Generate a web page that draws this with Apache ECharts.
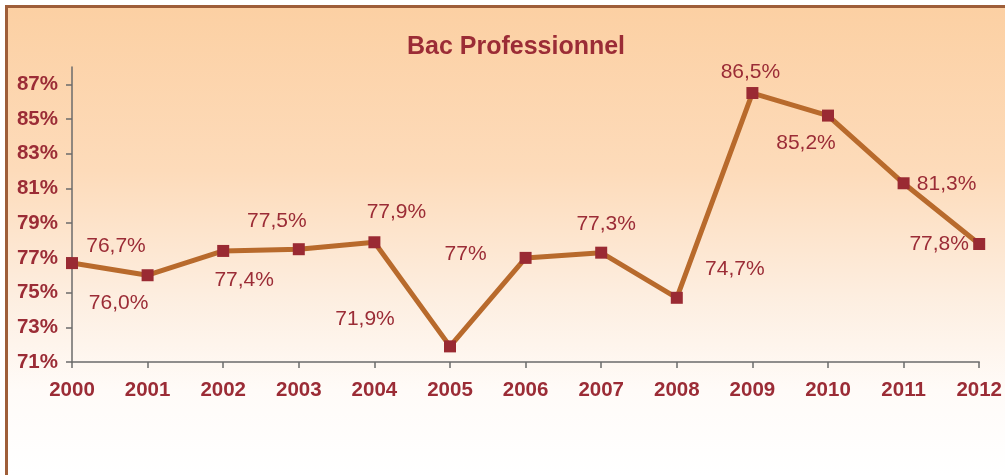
<!DOCTYPE html>
<html>
<head>
<meta charset="utf-8">
<script src="https://cdn.jsdelivr.net/npm/echarts@6/dist/echarts.min.js"></script>
<style>
html,body{margin:0;padding:0;background:#fff;}
#chart{width:1005px;height:475px;}
</style>
</head>
<body>
<div id="chart"></div>
<script>
const categories = ['2000','2001','2002','2003','2004','2005','2006','2007','2008','2009','2010','2011','2012'];
const values = [76.7, 76.0, 77.4, 77.5, 77.9, 71.9, 77.0, 77.3, 74.7, 86.5, 85.2, 81.3, 77.8];
const valueLabels = ['76,7%','76,0%','77,4%','77,5%','77,9%','71,9%','77%','77,3%','74,7%','86,5%','85,2%','81,3%','77,8%'];
const yTicks = [71, 73, 75, 77, 79, 81, 83, 85, 87];
const title = 'Bac Professionnel';

// label placement (presentation only)
const labelOffsets = [[44,-17],[-29,28],[21,29],[-22,-28],[22,-30],[-85,-27],[-60,-4],[5,-28],[58,-29],[-2,-21],[-22,28],[43,1],[-40,0]];

const textColor = '#9b2c36';
const font = '"Liberation Sans", Arial, Helvetica, sans-serif';

const chart = echarts.init(document.getElementById('chart'), null, {renderer:'canvas'});
chart.setOption({
  animation: false,
  graphic: [
    {type:'rect', z:-10, shape:{x:7,y:7,width:998,height:468},
     style:{fill:new echarts.graphic.LinearGradient(0,0,0,1,[
       {offset:0,color:'#fcd0a3'},
       {offset:0.35,color:'#fddbba'},
       {offset:0.62,color:'#fdeee0'},
       {offset:0.82,color:'#fffbf8'},
       {offset:1,color:'#ffffff'}])}},
    {type:'rect', z:-5, shape:{x:5,y:5,width:1000,height:3}, style:{fill:'#9e5e39'}},
    {type:'rect', z:-5, shape:{x:5,y:5,width:3,height:470}, style:{fill:'#9e5e39'}}
  ],
  title: {
    text: title, left: 511, top: 30, textAlign: 'center',
    textStyle: {color: textColor, fontFamily: font, fontWeight: 'bold', fontSize: 25}
  },
  grid: {left: 72, right: 23, top: 67, bottom: 113, containLabel: false},
  xAxis: {
    type: 'category', data: categories, boundaryGap: false,
    axisLine: {lineStyle: {color: '#6b6b6b', width: 1.5}},
    axisTick: {show: true, length: 6, inside: false, alignWithLabel: true, lineStyle: {color: '#6b6b6b', width: 1.5}},
    axisLabel: {color: textColor, fontFamily: font, fontWeight: 'bold', fontSize: 20.5, margin: 18, interval: 0},
    splitLine: {show: false}
  },
  yAxis: {
    type: 'value', min: 71, max: 88,
    axisLine: {show: true, lineStyle: {color: '#6b6b6b', width: 1.5}},
    axisTick: {show: true, length: 6, customValues: yTicks, lineStyle: {color: '#6b6b6b', width: 1.5}},
    axisLabel: {color: textColor, fontFamily: font, fontWeight: 'bold', fontSize: 20.5, margin: 14,
      customValues: yTicks, formatter: v => v + '%'},
    splitLine: {show: false}
  },
  series: [{
    type: 'line',
    data: values.map((v, i) => ({
      value: v,
      label: {show: true, position: 'inside', offset: labelOffsets[i], formatter: valueLabels[i]}
    })),
    symbol: 'rect', symbolSize: 12,
    lineStyle: {color: '#b86a2c', width: 5},
    itemStyle: {color: '#9a2a33', borderWidth: 0},
    label: {color: textColor, fontFamily: font, fontSize: 21},
    z: 3
  }]
});
</script>
</body>
</html>
